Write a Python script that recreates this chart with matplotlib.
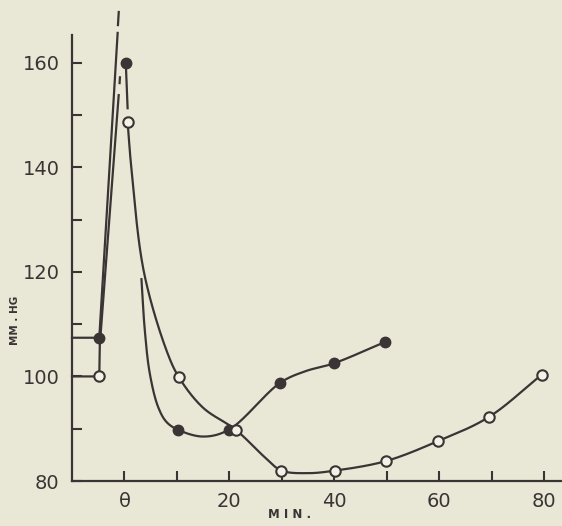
import numpy as np
import matplotlib
matplotlib.use("Agg")
import matplotlib.pyplot as plt

# readings taken off the old figure (minutes, mm Hg)
open_x = [-4.8, 0.6, 10.4, 21.2, 29.9, 40.2, 49.8, 59.7, 69.4, 79.5]
open_y = [100.0, 148.7, 99.8, 89.8, 82.0, 82.0, 83.8, 87.6, 92.2, 100.3]
filled_x = [-4.8, 0.25, 10.2, 19.9, 29.7, 39.9, 49.7]
filled_y = [107.4, 160.0, 89.8, 89.8, 98.8, 102.5, 106.6]

# hand drawn curves
open_rise_x = [-10.0, -4.8, -4.7, -1.1]
open_rise_y = [100.0, 100.0, 106.0, 153.8]
open_dash_x = [-0.93, -0.86]
open_dash_y = [156.1, 157.2]
open_fall_x = [0.6, 1.3, 3.7, 8.0, 10.4, 15.0, 21.2, 26.8, 29.9, 35.0, 40.2, 49.8, 59.7, 69.4, 79.5]
open_fall_y = [148.7, 140.0, 120.0, 105.0, 99.8, 94.0, 89.8, 84.5, 82.0, 81.5, 82.0, 83.8, 87.6, 92.2, 100.3]

filled_rise_x = [-10.0, -4.8, -1.3]
filled_rise_y = [107.4, 107.4, 165.7]
filled_dash_x = [-1.24, -1.09]
filled_dash_y = [167.2, 169.7]
filled_top_x = [0.25, 0.6]
filled_top_y = [160.0, 151.3]
filled_fall_x = [3.24, 3.87, 4.82, 6.4, 8.0, 10.2, 15.0, 19.9, 29.7, 34.5, 39.9, 49.7]
filled_fall_y = [118.6, 108.9, 100.6, 94.2, 91.3, 89.8, 88.5, 89.8, 98.8, 101.0, 102.5, 106.6]

x_ticks = [0, 10, 20, 30, 40, 50, 60, 70, 80]
x_labels = ["θ", "", "20", "", "40", "", "60", "", "80"]
y_ticks = [80, 90, 100, 110, 120, 130, 140, 150, 160]
y_labels = ["80", "", "100", "", "120", "", "140", "", "160"]

bg = "#e9e8d7"
ink = "#3a3434"


def smooth(xs, ys, n=40, alpha=0.5):
    # centripetal catmull-rom through the traced points
    p = np.column_stack([xs, ys]).astype(float)
    p = np.vstack([2 * p[0] - p[1], p, 2 * p[-1] - p[-2]])
    out = []
    for i in range(1, len(p) - 2):
        p0, p1, p2, p3 = p[i - 1], p[i], p[i + 1], p[i + 2]
        t0 = 0.0
        t1 = t0 + np.linalg.norm(p1 - p0) ** alpha
        t2 = t1 + np.linalg.norm(p2 - p1) ** alpha
        t3 = t2 + np.linalg.norm(p3 - p2) ** alpha
        t = np.linspace(t1, t2, n)[:, None]
        a1 = (t1 - t) / (t1 - t0) * p0 + (t - t0) / (t1 - t0) * p1
        a2 = (t2 - t) / (t2 - t1) * p1 + (t - t1) / (t2 - t1) * p2
        a3 = (t3 - t) / (t3 - t2) * p2 + (t - t2) / (t3 - t2) * p3
        b1 = (t2 - t) / (t2 - t0) * a1 + (t - t0) / (t2 - t0) * a2
        b2 = (t3 - t) / (t3 - t1) * a2 + (t - t1) / (t3 - t1) * a3
        out.append((t2 - t) / (t2 - t1) * b1 + (t - t1) / (t2 - t1) * b2)
    out = np.vstack(out)
    return out[:, 0], out[:, 1]


fig = plt.figure(figsize=(5.62, 5.26), dpi=100, facecolor=bg)
ax = fig.add_axes([72 / 562, 45 / 526, 490 / 562, 446 / 526])
ax.set_facecolor(bg)

lw = 1.6
ax.plot(filled_rise_x, filled_rise_y, color=ink, lw=lw, clip_on=False)
ax.plot(filled_dash_x, filled_dash_y, color=ink, lw=lw, clip_on=False)
ax.plot(open_rise_x, open_rise_y, color=ink, lw=lw, clip_on=False)
ax.plot(open_dash_x, open_dash_y, color=ink, lw=lw, clip_on=False)
ax.plot(filled_top_x, filled_top_y, color=ink, lw=lw)

sx, sy = smooth(open_fall_x, open_fall_y)
ax.plot(sx, sy, color=ink, lw=lw)
sx, sy = smooth(filled_fall_x, filled_fall_y)
ax.plot(sx, sy, color=ink, lw=lw)

ax.plot(filled_x, filled_y, "o", color=ink, ms=7.5, zorder=3)
ax.plot(open_x, open_y, "o", mfc="#f3f2e6", mec=ink, mew=1.5, ms=7.5, zorder=4)

ax.set_xlim(-10, 83.4)
ax.set_ylim(80, 165.3)
ax.spines["top"].set_visible(False)
ax.spines["right"].set_visible(False)
for s in ["left", "bottom"]:
    ax.spines[s].set_color(ink)
    ax.spines[s].set_linewidth(1.6)

ax.set_xticks(x_ticks)
ax.set_xticklabels(x_labels)
ax.set_yticks(y_ticks)
ax.set_yticklabels(y_labels)
ax.tick_params(direction="in", length=7, width=1.5, color=ink,
               labelcolor=ink, labelsize=14)
ax.tick_params(axis="x", pad=8)
ax.tick_params(axis="y", pad=9)

fig.text(290 / 562, 1 - 514 / 526, "M I N .", ha="center", va="center",
         fontsize=8.5, fontweight="bold", color=ink)
fig.text(15 / 562, 1 - 320 / 526, "MM . HG", ha="center", va="center",
         rotation=90, fontsize=7.5, fontweight="bold", color=ink)

fig.savefig("out.png", dpi=100, facecolor=bg)
